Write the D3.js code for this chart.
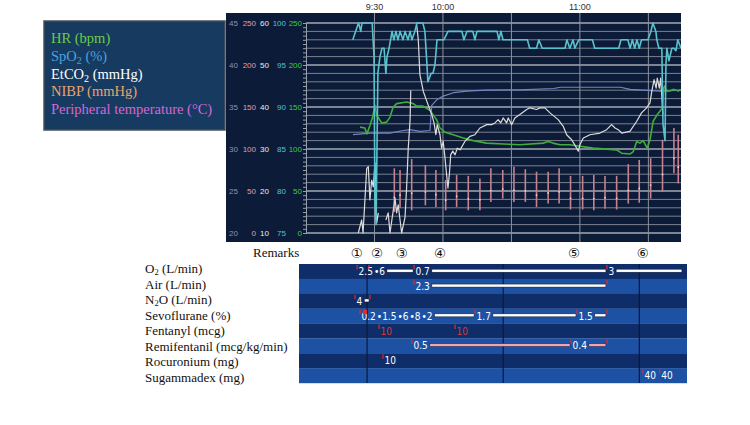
<!DOCTYPE html>
<html>
<head>
<meta charset="utf-8">
<script src="https://cdn.jsdelivr.net/npm/d3@7"></script>
<style>
body { margin: 0; background: #fff; }
</style>
</head>
<body>
<div id="chart"></div>
<script>
// minutes after 9:00 for every time value
var timeTicks = [30, 60, 120];
var timeTickLabels = ["9:30", "10:00", "11:00"];
var timeGrid = [30, 60, 90, 120, 150];

var legendLabels = [["HR (bpm)", ""], ["SpO", "2", " (%)"], ["EtCO", "2", " (mmHg)"], ["NIBP (mmHg)", ""], ["Peripheral temperature (\u00B0C)", ""]];

var tempTicks = [20, 25, 30, 35, 40, 45];
var bpTicks = [0, 50, 100, 150, 200, 250];
var etco2Ticks = [10, 20, 30, 40, 50, 60];
var spo2Ticks = [75, 80, 85, 90, 95, 100];
var hrTicks = [0, 50, 100, 150, 200, 250];

var spo2Data = [[20.5,98],[23,100],[24,99],[24.5,100],[29,100],[29.8,96],[30.2,79],[30.7,76],[31.1,85],[31.5,94],[32.4,96],[33.3,97],[34.2,97],[35,94],[35.5,96],[36.4,97],[37.7,99],[38.5,98],[39.4,99],[40.3,98],[41.2,99],[42.5,98],[43.4,99],[44.7,98],[45.6,99],[46.4,98],[47.7,99],[48.6,100],[51.2,100],[52.1,99],[53,95],[53.4,93],[54.8,94],[55.6,94],[56.5,95],[57.4,98],[60.4,98],[62.2,99],[68.3,99],[69.2,98],[70.5,99],[73.1,99],[74,98],[74.9,99],[83.7,99],[84.5,98],[85.4,99],[86.3,98],[97,98],[98,97],[101,97],[102,98],[103.5,97],[113.5,97],[114.3,98],[115.6,97],[117,98],[117.8,97],[119.5,98],[125.5,98],[126.5,97],[137,97],[138,98],[141,98],[142,97],[143,98],[144,97],[145,98],[146,97],[147,98],[149.8,98],[151.1,99],[152,100],[153.3,99],[153.7,98],[154.6,97],[155.9,97],[156.4,88],[157.3,86],[157.7,95],[158.1,97],[159,95.5],[160.3,97],[161.2,97],[162.1,96.7],[162.9,98],[164.3,97]];

var hrData = [[23.7,126],[25.8,125],[26.7,118],[28,128],[29.2,138],[30.2,152],[31,140],[33.2,131],[35.3,132],[36.8,138],[38.2,150],[39.7,154],[44.1,156],[47,154],[48.5,151],[51.2,151],[54.3,146],[57.2,135],[58.7,125],[60.9,120],[64.5,117],[68.9,113],[73.3,110],[79.1,107],[86.4,106],[93.7,105],[103.9,107],[106.1,109],[108.2,107],[111.3,105],[115.6,105],[125.8,101],[136.1,99],[138.3,95],[141.9,94],[143.4,97],[144.9,109],[146.3,107],[147.7,110],[149.5,101],[150.7,111],[152.1,133],[153.9,141],[155.1,145],[156.1,149],[156.8,173],[157.2,175],[158,169],[159.4,169],[160.9,171],[163.1,169],[164.1,171]];

var etco2Data = [[22.9,10],[24.4,13.1],[25,10],[26.6,25.4],[27.3,25.8],[28,17.9],[28.8,22.6],[29.5,21],[30.2,26.7],[31,12.4],[31.7,14.8],[32,null],[35,13.1],[36,14.8],[36.8,10],[39,18.3],[39.7,14.8],[40.4,16.7],[41.2,13.1],[41.9,10],[43.4,13.8],[44.1,21],[44.8,30.2],[45.6,36.9],[45.9,44],[47,null],[48.5,59.5],[49.2,56],[49.9,47.7],[51.4,43.7],[52.9,41.4],[54,39.8],[55.1,38.2],[56.1,36.2],[56.9,33.4],[57.5,35.8],[58.7,33.4],[59.4,30.2],[60.1,31.8],[60.9,27.9],[61.6,23.9],[62.2,20.7],[62.8,23.9],[63.4,28.6],[64.3,29.5],[65.3,28.6],[66.3,30.2],[67.5,29.8],[69.6,31.8],[71.8,33],[74,33.4],[76.2,35],[79.2,35.8],[81.3,35.8],[82.8,36.2],[84.2,37],[85.3,36.2],[86.4,37.4],[87.9,36.2],[88.6,37.4],[90.1,35.8],[91.5,37.4],[93.7,38.2],[96.7,39.4],[98.1,39.8],[101,39.4],[102.5,39.8],[104.7,39.8],[106.9,38.6],[110.5,37],[112.7,35.4],[114.2,33.4],[116.4,32.2],[118.6,30.2],[119.3,29.5],[120,31],[121.5,32.6],[124.4,33.4],[128.8,33.8],[131.7,34.6],[133.9,35.8],[135.4,35],[136.8,34.6],[138.3,33.8],[141.9,34.2],[144.9,36.6],[147,38.6],[149.2,39.8],[150.7,41],[151.5,43.7],[152.5,46.5],[153.4,44.5],[153.9,46.9],[154.8,44.5],[155.4,46.9],[156.1,40.5],[156.4,38.3]];

var tempData = [[20.6,31.7],[28,31.9],[36.8,31.9],[42.6,32.2],[45.6,32.3],[49.9,32.1],[54.3,32.2],[55.1,35.2],[57.5,35.9],[60.1,36.3],[64.6,36.7],[70.5,36.9],[79,37],[93.8,37.05],[108.5,37.2],[111.5,37.35],[137.8,37.35],[142,37.1],[155,36.9],[164.3,37]];

var nibpTime = [38.7,41.2,46.3,52.3,56.9,61.2,66,71.1,76.2,81,86.2,91.1,96.1,101,106.1,110.9,115.9,121.2,126.1,131,136.1,141.2,146,151,156.2,161.2,163.1];
var nibpSys = [77,75,88,81,75,63,69,68,65,77,75,79,76,73,73,77,68,68,69,68,68,82,87,89,111,125,117];
var nibpDia = [25,30,27,33,31,27,31,27,27,37,41,37,37,31,35,35,28,28,27,29,28,35,36,41,49,71,59];

var remarkTimes = [22.3, 31.1, 42, 58.7, 117.4, 147.6];
var remarkLabels = ["\u2460", "\u2461", "\u2462", "\u2463", "\u2464", "\u2465"];

var drugRows = ["O", "Air (L/min)", "N", "Sevoflurane (%)", "Fentanyl (mcg)", "Remifentanil (mcg/kg/min)", "Rocuronium (mg)", "Sugammadex (mg)"];
var tableGrid = [30, 90, 150];

var o2Rate = [[25.6,"2.5"],[30.8,"6"],[50.7,"0.7"],[135.7,"3"]];
var airRate = [[50.7,"2.3"]];
var n2oRate = [[24.7,"4"]];
var sevoPct = [[26.9,"0.2"],[28.4,"1.5"],[28.9,"6"],[29.3,"8"],[29.7,"2"],[77.6,"1.7"],[122.5,"1.5"]];
var remiRate = [[49.8,"0.5"],[119.9,"0.4"]];
var fentanylDose = [[35.3,"10"],[68.8,"10"]];
var rocuroniumDose = [[37,"10"]];
var sugammadexDose = [[151.6,"40"],[159,"40"]];

var svg = d3.select("#chart").append("svg")
	.attr("width", 750)
	.attr("height", 425)
	.style("font-family", "'Liberation Sans', Arial, sans-serif");

// ---------- monitor panel ----------
var xM = d3.scaleLinear().domain([0, 164.3]).range([306, 681]);
var yHR = d3.scaleLinear().domain([0, 250]).range([233, 23]);
var ySpO2 = d3.scaleLinear().domain([75, 100]).range([233, 23]);
var yEt = d3.scaleLinear().domain([10, 60]).range([233, 23]);
var yTemp = d3.scaleLinear().domain([20, 45]).range([233, 23]);

svg.append("rect")
	.attr("x", 226).attr("y", 13)
	.attr("width", 455).attr("height", 229)
	.attr("fill", "#0c1b38");

svg.append("clipPath").attr("id", "plotclip")
	.append("rect").attr("x", 306).attr("y", 13).attr("width", 375).attr("height", 229);

var grid = svg.append("g");
grid.selectAll("line.h").data(d3.range(0, 251, 10))
	.enter().append("line")
	.attr("x1", 306).attr("x2", 681)
	.attr("y1", function(d) { return yHR(d); })
	.attr("y2", function(d) { return yHR(d); })
	.attr("stroke", function(d) { return d % 50 == 0 ? "#a3a8b0" : "#7b818c"; })
	.attr("stroke-width", function(d) { return d % 50 == 0 ? 1.6 : 1; });
grid.selectAll("line.v").data(timeGrid)
	.enter().append("line")
	.attr("x1", function(d) { return xM(d); })
	.attr("x2", function(d) { return xM(d); })
	.attr("y1", 13).attr("y2", 242)
	.attr("stroke", "#8d939d")
	.attr("stroke-width", 1);

// left edge ticks
var edge = svg.append("g").attr("transform", "translate(306,0)")
	.call(d3.axisLeft(yHR).tickValues(d3.range(0, 251, 5)).tickSize(3).tickFormat(""));
edge.selectAll("line").attr("stroke", "#9aa0aa");
edge.select(".domain").attr("stroke", "#9aa0aa");

// five stacked value axes
function valueAxis(scale, ticks, xr, color) {
	var g = svg.append("g").attr("transform", "translate(" + xr + ",0)")
		.call(d3.axisLeft(scale).tickValues(ticks).tickSize(0).tickPadding(0));
	g.select(".domain").remove();
	g.selectAll("text")
		.attr("fill", color)
		.style("font-size", "8px")
		.style("font-family", "'Liberation Sans', Arial, sans-serif");
}
valueAxis(yTemp, tempTicks, 238, "#8e93b8");
valueAxis(yHR, bpTicks, 256, "#e79ba4");
valueAxis(yEt, etco2Ticks, 269, "#ececec");
valueAxis(ySpO2, spo2Ticks, 286, "#4cc6d6");
valueAxis(yHR, hrTicks, 302, "#39d039");

svg.selectAll("text.time").data(timeTicks)
	.enter().append("text")
	.attr("class", "time")
	.attr("x", function(d) { return xM(d); })
	.attr("y", 10)
	.attr("text-anchor", "middle")
	.attr("fill", "#333")
	.style("font-size", "9px")
	.text(function(d, i) { return timeTickLabels[i]; });

var plot = svg.append("g").attr("clip-path", "url(#plotclip)");

// NIBP bars
plot.selectAll("line.bp").data(nibpTime)
	.enter().append("line")
	.attr("x1", function(d) { return xM(d); })
	.attr("x2", function(d) { return xM(d); })
	.attr("y1", function(d, i) { return yHR(nibpSys[i]); })
	.attr("y2", function(d, i) { return yHR(nibpDia[i]); })
	.attr("stroke", "#c9818f")
	.attr("stroke-width", 1.6);
plot.selectAll("circle.bp").data(nibpTime)
	.enter().append("circle")
	.attr("cx", function(d) { return xM(d); })
	.attr("cy", function(d, i) { return yHR((nibpSys[i] + 2 * nibpDia[i]) / 3); })
	.attr("r", 0.9)
	.attr("fill", "#ead0d5");

function trace(data, yScale, color, width) {
	var line = d3.line()
		.defined(function(d) { return d[1] != null; })
		.x(function(d) { return xM(d[0]); })
		.y(function(d) { return yScale(d[1]); });
	plot.append("path").datum(data)
		.attr("d", line)
		.attr("fill", "none")
		.attr("stroke", color)
		.attr("stroke-width", width)
		.attr("stroke-linejoin", "round");
}
trace(tempData, yTemp, "#7884c2", 1.2);
trace(hrData, yHR, "#3fae3a", 1.6);
trace(etco2Data, yEt, "#dcdcdc", 1.2);
trace(spo2Data, ySpO2, "#58c3cc", 1.6);

// ---------- legend ----------
svg.append("rect")
	.attr("x", 44).attr("y", 21)
	.attr("width", 181).attr("height", 109)
	.attr("fill", "#173a61")
	.attr("stroke", "#4a4f58")
	.attr("stroke-width", 1.5);
var legendColors = ["#6ccc44", "#4aa3df", "#ffffff", "#e9a36e", "#d567d5"];
legendLabels.forEach(function(l, i) {
	var t = svg.append("text")
		.attr("x", 51).attr("y", 43 + i * 17.8)
		.attr("fill", legendColors[i])
		.style("font-family", "'Liberation Serif', 'Times New Roman', serif")
		.style("font-size", "14.5px");
	t.append("tspan").text(l[0]);
	if (l.length > 2) {
		t.append("tspan").attr("dy", 3).style("font-size", "10px").text(l[1]);
		t.append("tspan").attr("dy", -3).text(l[2]);
	}
});

// ---------- remarks ----------
svg.append("text")
	.attr("x", 253).attr("y", 257)
	.style("font-family", "'Liberation Serif', 'Times New Roman', serif")
	.style("font-size", "13px")
	.attr("fill", "#111")
	.text("Remarks");
svg.selectAll("text.remark").data(remarkTimes)
	.enter().append("text")
	.attr("class", "remark")
	.attr("x", function(d) { return xM(d); })
	.attr("y", 258)
	.attr("text-anchor", "middle")
	.attr("fill", "#111")
	.style("font-size", "13.5px")
	.style("font-family", "'DejaVu Sans', sans-serif")
	.text(function(d, i) { return remarkLabels[i]; });

// ---------- anaesthesia table ----------
var xT = d3.scaleLinear().domain([0, 171]).range([299, 687]);
var rowH = 14.875, tableTop = 264;
var yRow = function(i) { return tableTop + i * rowH; };

svg.selectAll("rect.row").data(drugRows)
	.enter().append("rect")
	.attr("x", 299).attr("width", 388)
	.attr("y", function(d, i) { return yRow(i); })
	.attr("height", rowH + 0.2)
	.attr("fill", function(d, i) { return i % 2 == 0 ? "#0f2d68" : "#1d51a3"; });
svg.selectAll("line.tg").data(tableGrid)
	.enter().append("line")
	.attr("x1", function(d) { return xT(d); })
	.attr("x2", function(d) { return xT(d); })
	.attr("y1", tableTop).attr("y2", yRow(8))
	.attr("stroke", "#0a1a3c").attr("stroke-width", 1.2);

drugRows.forEach(function(name, i) {
	var t = svg.append("text")
		.attr("x", 145).attr("y", 273 + i * 15.5)
		.attr("fill", "#111")
		.style("font-family", "'Liberation Serif', 'Times New Roman', serif")
		.style("font-size", "13px");
	t.append("tspan").text(name);
	if (i == 0 || i == 2) {
		t.append("tspan").attr("dy", 2).style("font-size", "8.5px").text("2");
		t.append("tspan").attr("dy", -2).text(i == 0 ? " (L/min)" : "O (L/min)");
	}
});

var tbl = svg.append("g")
	.style("font-family", "'Liberation Sans Narrow', 'DejaVu Sans Condensed', 'Arial Narrow', sans-serif")
	.style("font-size", "10px");

function redTick(row, x) {
	tbl.append("line")
		.attr("x1", x).attr("x2", x)
		.attr("y1", yRow(row) + 1).attr("y2", yRow(row) + 5.5)
		.attr("stroke", "#e42a2a").attr("stroke-width", 1.2);
}

function infusion(row, doses, stop, endTick, barColor) {
	var cursor = -Infinity;
	var bare = false;
	doses.forEach(function(d, i) {
		var x0 = xT(d[0]);
		redTick(row, x0);
		var crowded = bare && cursor > x0 - 3;
		var tx = crowded ? cursor + 1 : x0 + 1.5;
		var txt = tbl.append("text")
			.attr("x", tx).attr("y", yRow(row) + 11)
			.attr("fill", "#fff")
			.text((crowded ? "\u2022" : "") + d[1]);
		cursor = tx + txt.node().getComputedTextLength();
		var next = i < doses.length - 1 ? xT(doses[i + 1][0]) : xT(stop);
		if (next - cursor > 4) {
			tbl.append("rect")
				.attr("x", cursor + 2).attr("y", yRow(row) + 5.2)
				.attr("width", next - 1 - cursor - 2).attr("height", 3)
				.attr("fill", barColor)
				.attr("stroke", "#0a1836").attr("stroke-width", 0.5);
			cursor = next;
			bare = false;
		} else {
			bare = true;
		}
	});
	if (endTick) redTick(row, xT(stop));
}

function bolus(row, doses, color) {
	doses.forEach(function(d) {
		var x0 = xT(d[0]);
		redTick(row, x0);
		tbl.append("text")
			.attr("x", x0 + 1.5).attr("y", yRow(row) + 11)
			.attr("fill", color)
			.text(d[1]);
	});
}

infusion(0, o2Rate, 169.2, false, "#ffffff");
infusion(1, airRate, 135.7, true, "#ffffff");
infusion(2, n2oRate, 31.3, true, "#ffffff");
infusion(3, sevoPct, 135.7, true, "#ffffff");
bolus(4, fentanylDose, "#d23a3a");
infusion(5, remiRate, 135.7, true, "#f4a3b3");
bolus(6, rocuroniumDose, "#ffffff");
bolus(7, sugammadexDose, "#ffffff");
</script>
</body>
</html>
